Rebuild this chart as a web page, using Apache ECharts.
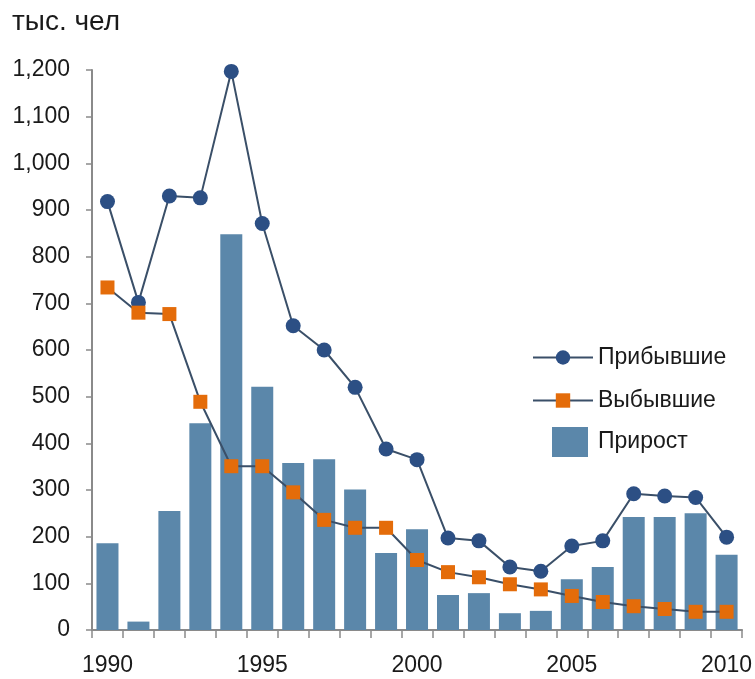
<!DOCTYPE html>
<html>
<head>
<meta charset="utf-8">
<script src="https://cdn.jsdelivr.net/npm/echarts@6/dist/echarts.min.js"></script>
<style>
html,body{margin:0;padding:0;background:#fff;}
#main{width:755px;height:679px;}
</style>
</head>
<body>
<div id="main"></div>
<script>
const years = ['1990','1991','1992','1993','1994','1995','1996','1997','1998','1999','2000','2001','2002','2003','2004','2005','2006','2007','2008','2009','2010'];
const arrived = [918, 702, 930, 926, 1197, 871, 652, 600, 520, 388, 365, 197, 191, 135, 126, 180, 191, 292, 287, 284, 199];
const departed = [734, 680, 677, 489, 351, 351, 295, 236, 219, 219, 150, 124, 113, 98, 87, 73, 60, 51, 45, 39, 39];
const growth = [186, 18, 255, 443, 848, 521, 358, 366, 301, 165, 216, 75, 79, 36, 41, 109, 135, 242, 242, 250, 161];
const yTicks = [0, 100, 200, 300, 400, 500, 600, 700, 800, 900, 1000, 1100, 1200];

const FONT = '"Liberation Sans", Arial, sans-serif';
const chart = echarts.init(document.getElementById('main'), null, {renderer: 'canvas'});
chart.setOption({
  animation: false,
  backgroundColor: '#ffffff',
  title: {
    text: 'тыс. чел',
    left: 7, top: 3,
    textStyle: {fontFamily: FONT, fontSize: 28, fontWeight: 'normal', color: '#1a1a1a'}
  },
  legend: [{
    data: ['Прибывшие', 'Выбывшие'],
    orient: 'vertical',
    left: 527, top: 341,
    itemWidth: 60, itemHeight: 18, itemGap: 20,
    textStyle: {fontFamily: FONT, fontSize: 23, color: '#1a1a1a'}
  }, {
    data: [{name: 'Прирост', icon: 'rect'}],
    orient: 'vertical',
    left: 547, top: 422,
    itemWidth: 36, itemHeight: 30,
    textStyle: {fontFamily: FONT, fontSize: 23, color: '#1a1a1a', padding: [0, 0, 0, 5]}
  }],
  grid: {left: 92, right: 6, top: 70, bottom: 49, containLabel: false},
  xAxis: {
    type: 'category',
    data: years,
    boundaryGap: true,
    axisLine: {lineStyle: {color: '#8a8a8a', width: 2}},
    axisTick: {show: true, interval: 0, length: 8, lineStyle: {color: '#8a8a8a', width: 1.5}},
    axisLabel: {interval: 4, margin: 24, fontFamily: FONT, fontSize: 23, color: '#1a1a1a'},
    splitLine: {show: false}
  },
  yAxis: {
    type: 'value',
    min: 0, max: 1200, interval: 100,
    axisLine: {show: true, lineStyle: {color: '#8a8a8a', width: 2}},
    axisTick: {show: true, length: 6, lineStyle: {color: '#8a8a8a', width: 1.5}},
    axisLabel: {
      margin: 22, fontFamily: FONT, fontSize: 23, color: '#1a1a1a',
      formatter: v => yTicks.includes(v) ? v.toLocaleString('en-US') : ''
    },
    splitLine: {show: false}
  },
  series: [{
    name: 'Прирост',
    type: 'bar',
    data: growth,
    barWidth: 22,
    itemStyle: {color: '#5b87aa'},
    z: 1
  }, {
    name: 'Прибывшие',
    type: 'line',
    data: arrived,
    symbol: 'circle',
    symbolSize: 15,
    lineStyle: {color: '#3a4f68', width: 2},
    itemStyle: {color: '#2c4f84'},
    z: 3
  }, {
    name: 'Выбывшие',
    type: 'line',
    data: departed,
    symbol: 'rect',
    symbolSize: 14,
    lineStyle: {color: '#3a4f68', width: 2},
    itemStyle: {color: '#e46c0a'},
    z: 4
  }]
});
</script>
</body>
</html>
